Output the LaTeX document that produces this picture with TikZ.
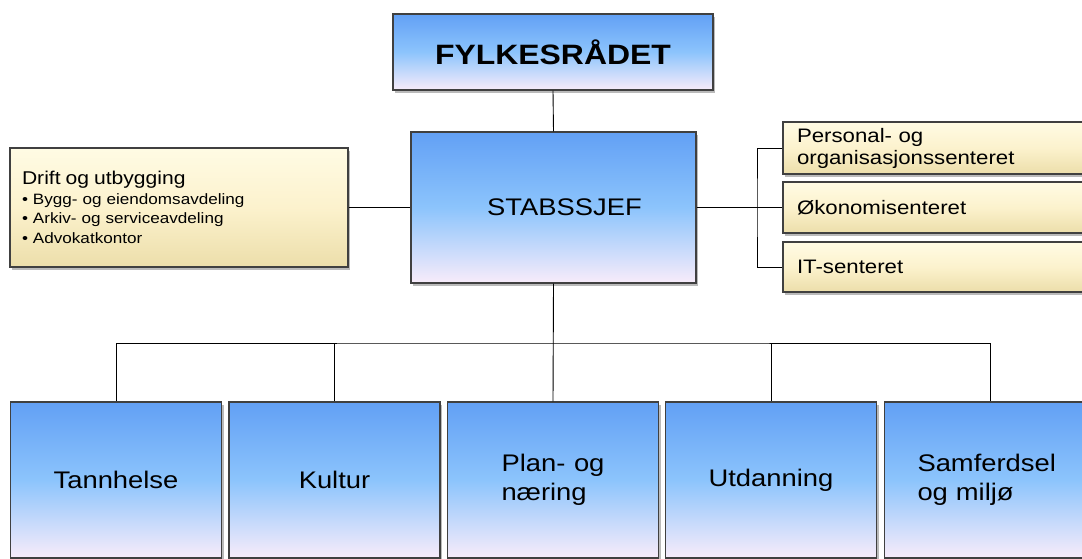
\documentclass[tikz,border=0pt]{standalone}
\usepackage{fontspec}
\setmainfont{Liberation Sans}[FakeStretch=1.14, WordSpace=1.14]
\usetikzlibrary{shadows}
\definecolor{bluetop}{RGB}{98,160,245}
\definecolor{bluemid}{RGB}{140,196,252}
\definecolor{bluebot}{RGB}{248,236,250}
\definecolor{beigetop}{RGB}{255,251,228}
\definecolor{beigemid}{RGB}{252,242,205}
\definecolor{beigebot}{RGB}{236,222,170}
\tikzset{
  box/.style={rectangle, draw=black!75, line width=1.4pt, inner sep=0pt,
    drop shadow={shadow xshift=2pt, shadow yshift=-3pt, opacity=0.45, fill=black!60}},
  bluebox/.style={box, top color=bluetop, bottom color=bluebot, middle color=bluemid},
  beigebox/.style={box, top color=beigetop, bottom color=beigebot, middle color=beigemid},
  conn/.style={draw=black, line width=0.9pt},
}
\begin{document}
\begin{tikzpicture}[x=1pt,y=-1pt]
\clip (0,0) rectangle (1082,558);
\useasboundingbox (0,0) rectangle (1082,558);
% top
\node[bluebox, minimum width=320pt, minimum height=76pt, font=\fontsize{28}{32}\selectfont\bfseries] (fyl) at (553,52) {FYLKESRÅDET};
\node[bluebox, minimum width=285pt, minimum height=151pt, font=\fontsize{24}{28}\selectfont] (stab) at (553.5,207.5) {\hspace*{22pt}STABSSJEF};
% left
\node[beigebox, minimum width=338pt, minimum height=119pt, text width=314pt, align=left, inner xsep=12pt, font=\fontsize{15}{19.5}\selectfont] (drift) at (179,207.5)
  {{\fontsize{18.5}{19}\selectfont Drift og utbygging}\\
   • Bygg- og eiendomsavdeling\\
   • Arkiv- og serviceavdeling\\
   • Advokatkontor};
% right
\tikzset{rbox/.style={beigebox, minimum width=312pt, text width=284pt, align=left, inner xsep=14pt, font=\fontsize{19.5}{22}\selectfont}}
\node[rbox, minimum height=52pt] (pers) at (939,148) {Personal- og\\organisasjonssenteret};
\node[rbox, minimum height=51pt] (oko) at (939,207.5) {Økonomisenteret};
\node[rbox, minimum height=50pt] (it) at (939,267) {IT-senteret};
% bottom
\tikzset{bot/.style={bluebox, minimum width=211pt, minimum height=156pt, font=\fontsize{24}{29}\selectfont, align=left}}
\node[bot] (tann) at (116,480) {Tannhelse};
\node[bot] (kult) at (334.5,480) {Kultur};
\node[bot] (plan) at (553,480) {Plan- og\\næring};
\node[bot] (utd) at (771,480) {Utdanning};
\node[bot, text width=145pt, inner xsep=33pt] (samf) at (990,480) {Samferdsel\\og miljø};
% connectors
\coordinate (rb) at (757,207.5);
\coordinate (bus) at (553,343);
\draw[conn] (fyl.south) -- (stab.north);
\draw[conn] (drift.east) -- (stab.west);
\draw[conn] (stab.east) -- (oko.west);
\draw[conn] (pers.west) -| (rb) |- (it.west);
\draw[conn] (stab.south) -- (plan.north);
\draw[conn] (tann.north) |- (bus) -| (samf.north);
\draw[conn] (kult.north) -- (kult.north |- bus);
\draw[conn] (utd.north) -- (utd.north |- bus);
\end{tikzpicture}
\end{document}
